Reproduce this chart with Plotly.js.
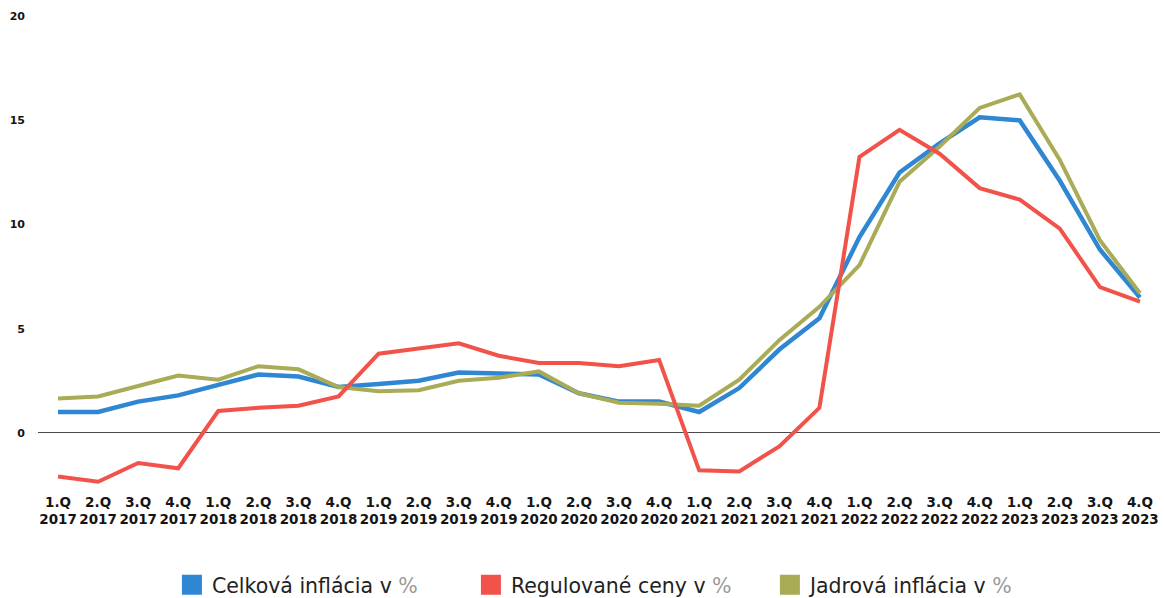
<!DOCTYPE html>
<html>
<head>
<meta charset="utf-8">
<script src="https://cdn.plot.ly/plotly-3.0.1.min.js"></script>
<style>html,body{margin:0;padding:0;background:#fff;}#chart{width:1164px;height:598px;}</style>
</head>
<body>
<div id="chart"></div>
<script>
var quarters = ["1.Q","2.Q","3.Q","4.Q","1.Q","2.Q","3.Q","4.Q","1.Q","2.Q","3.Q","4.Q","1.Q","2.Q","3.Q","4.Q","1.Q","2.Q","3.Q","4.Q","1.Q","2.Q","3.Q","4.Q","1.Q","2.Q","3.Q","4.Q"];
var years = ["2017","2017","2017","2017","2018","2018","2018","2018","2019","2019","2019","2019","2020","2020","2020","2020","2021","2021","2021","2021","2022","2022","2022","2022","2023","2023","2023","2023"];
var celkova = [1.0,1.0,1.5,1.8,2.3,2.8,2.7,2.2,2.35,2.5,2.9,2.85,2.8,1.9,1.5,1.5,1.0,2.15,4.0,5.5,9.4,12.5,13.9,15.15,15.0,12.1,8.8,6.5];
var regulovane = [-2.1,-2.35,-1.45,-1.7,1.05,1.2,1.3,1.75,3.8,4.05,4.3,3.7,3.35,3.35,3.2,3.5,-1.8,-1.85,-0.65,1.2,13.25,14.55,13.4,11.75,11.2,9.8,7.0,6.3];
var jadrova = [1.65,1.75,2.25,2.75,2.55,3.2,3.05,2.2,2.0,2.05,2.5,2.65,2.95,1.9,1.45,1.4,1.3,2.55,4.45,6.05,8.05,12.05,13.75,15.6,16.25,13.1,9.25,6.7];
var seriesNames = ["Celková inflácia v ", "Regulované ceny v ", "Jadrová inflácia v "];
var yTicks = [0,5,10,15,20];

var labels = quarters.map(function(q,i){ return q + "<br>" + years[i]; });
var cBlue = "#2f86d2", cRed = "#f1524a", cOlive = "#a9ab56";
var pct = '<span style="color:#9a9a9a">%</span>';

function legendEntry(name, color, rank) {
  return {type:"scatter", mode:"markers", x:[labels[0]], y:[null], name:name+pct,
          marker:{symbol:"square", size:16, color:color, line:{color:color, width:4}},
          legendrank:rank, hoverinfo:"skip"};
}

var traces = [
  {type:"scatter", mode:"lines", x:labels, y:celkova, line:{color:cBlue,width:4.5}, showlegend:false, hoverinfo:"skip"},
  {type:"scatter", mode:"lines", x:labels, y:jadrova, line:{color:cOlive,width:4}, showlegend:false, hoverinfo:"skip"},
  {type:"scatter", mode:"lines", x:labels, y:regulovane, line:{color:cRed,width:4}, showlegend:false, hoverinfo:"skip"},
  legendEntry(seriesNames[0], cBlue, 1),
  legendEntry(seriesNames[1], cRed, 2),
  legendEntry(seriesNames[2], cOlive, 3)
];

var layout = {
  width:1164, height:598,
  margin:{l:38, r:4, t:10, b:111},
  paper_bgcolor:"#fff", plot_bgcolor:"#fff",
  xaxis:{type:"category", range:[-0.5,27.5], showgrid:false, zeroline:false, showline:false, ticks:"", tickangle:0,
         ticklabelstandoff:5,
         tickfont:{family:"DejaVu Sans", size:13.5, weight:700, color:"#151515"}},
  yaxis:{range:[-2.6,20.3], tickvals:yTicks, showgrid:false, zeroline:true, zerolinecolor:"#4a4a4a", zerolinewidth:1.2,
         showline:false, ticks:"", ticklabelstandoff:12,
         tickfont:{family:"DejaVu Sans", size:11, weight:700, color:"#151515"}},
  showlegend:true,
  legend:{orientation:"h", xref:"container", yref:"container", x:0.533, xanchor:"center", y:0.022, yanchor:"middle",
          font:{family:"DejaVu Sans", size:20.5, color:"#222"}, itemwidth:30, entrywidth:254, traceorder:"normal"}
};

Plotly.newPlot("chart", traces, layout, {displayModeBar:false, staticPlot:true});
</script>
</body>
</html>
